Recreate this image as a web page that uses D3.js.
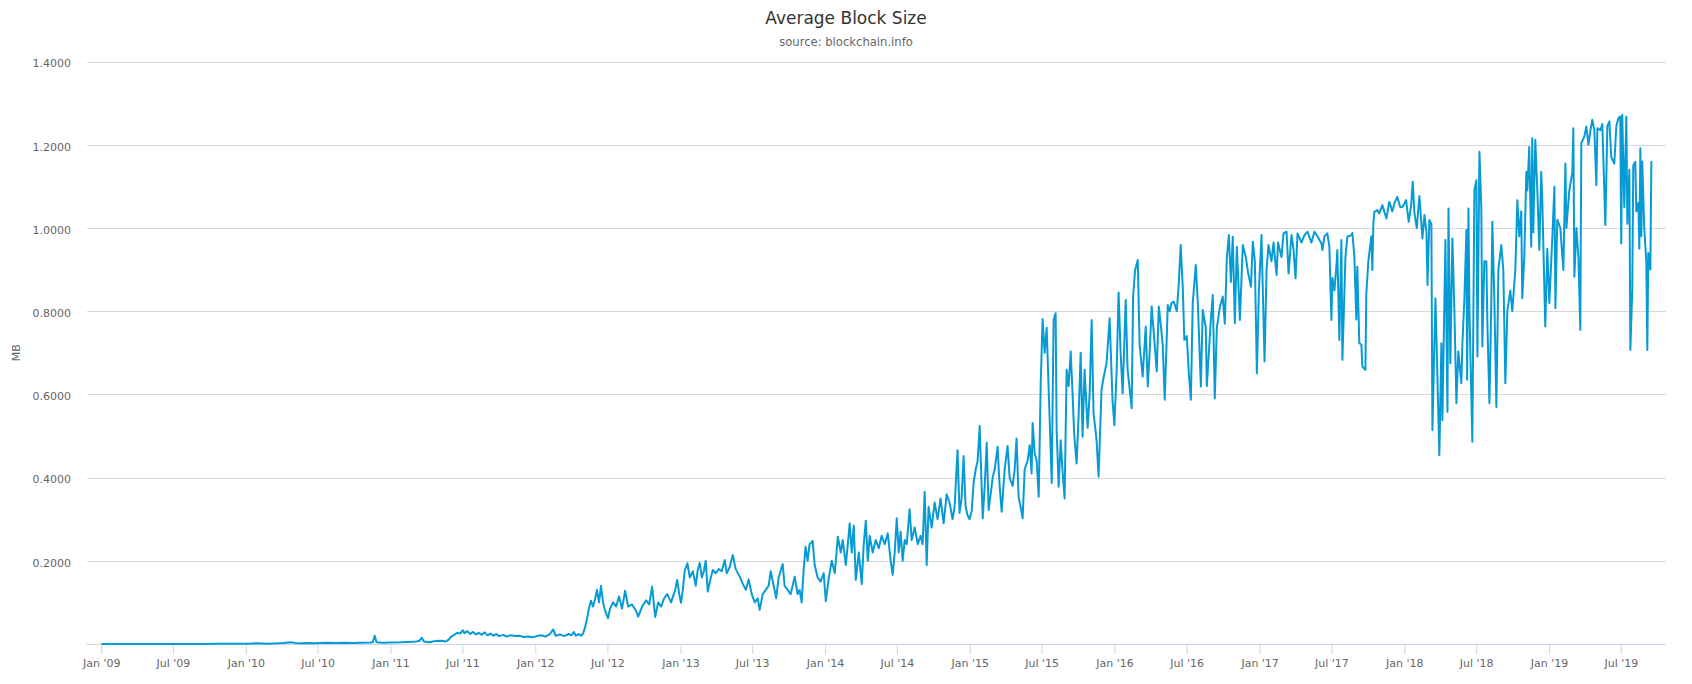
<!DOCTYPE html>
<html>
<head>
<meta charset="utf-8">
<script src="https://cdn.jsdelivr.net/npm/d3@7"></script>
<style>
  html, body { margin: 0; padding: 0; background: #ffffff; }
  svg { display: block; font-family: "DejaVu Sans", Verdana, sans-serif; }
</style>
</head>
<body>
<svg id="chart" width="1692" height="684"></svg>
<script>
// ---------------- DATA ----------------
const chartTitle = "Average Block Size";
const chartSubtitle = "source: blockchain.info";
const yAxisTitle = "MB";
const yTickValues = [0.2, 0.4, 0.6, 0.8, 1.0, 1.2, 1.4];
const xDomainStart = "2008-11-25";
const xDomainEnd = "2019-10-23";

// [decimal year, average block size in MB]
const y2009 = [[2009.008,0.0002],[2009.1,0.0002],[2009.2,0.0003],[2009.3,0.0002],[2009.4,0.0002],[2009.5,0.0003],[2009.6,0.0002],[2009.7,0.0003],[2009.8,0.0006],[2009.9,0.0004],[2009.95,0.0008]];
const y2010 = [[2010.02,0.0006],[2010.08,0.0018],[2010.14,0.0009],[2010.2,0.0015],[2010.26,0.0022],[2010.31,0.004],[2010.36,0.0015],[2010.42,0.0025],[2010.48,0.002],[2010.55,0.0028],[2010.62,0.0022],[2010.68,0.003],[2010.74,0.0025],[2010.8,0.003],[2010.86,0.0035],[2010.877,0.004],[2010.89,0.02],[2010.903,0.004],[2010.95,0.003]];
const y2011 = [[2011.0,0.0035],[2011.06,0.004],[2011.12,0.005],[2011.18,0.006],[2011.2,0.008],[2011.215,0.015],[2011.23,0.006],[2011.27,0.004],[2011.31,0.007],[2011.35,0.008],[2011.38,0.006],[2011.4,0.01],[2011.42,0.018],[2011.44,0.022],[2011.46,0.027],[2011.48,0.025],[2011.5,0.033],[2011.51,0.026],[2011.53,0.031],[2011.55,0.024],[2011.57,0.029],[2011.59,0.023],[2011.61,0.027],[2011.63,0.022],[2011.65,0.028],[2011.67,0.021],[2011.69,0.025],[2011.71,0.02],[2011.73,0.024],[2011.75,0.019],[2011.78,0.022],[2011.8,0.018],[2011.83,0.021],[2011.86,0.019],[2011.89,0.02],[2011.92,0.017],[2011.95,0.018],[2011.98,0.016]];
const y2012 = [[2012.01,0.019],[2012.04,0.021],[2012.07,0.018],[2012.1,0.024],[2012.124,0.035],[2012.14,0.02],[2012.17,0.023],[2012.2,0.019],[2012.23,0.024],[2012.25,0.021],[2012.265,0.029],[2012.28,0.02],[2012.3,0.024],[2012.315,0.02],[2012.329,0.025],[2012.343,0.04],[2012.356,0.06],[2012.37,0.086],[2012.384,0.104],[2012.398,0.09],[2012.412,0.108],[2012.425,0.13],[2012.439,0.1],[2012.453,0.14],[2012.467,0.1],[2012.481,0.08],[2012.501,0.062],[2012.515,0.085],[2012.536,0.1],[2012.557,0.09],[2012.577,0.114],[2012.598,0.085],[2012.619,0.128],[2012.64,0.09],[2012.667,0.095],[2012.694,0.08],[2012.709,0.066],[2012.736,0.09],[2012.764,0.105],[2012.785,0.095],[2012.805,0.138],[2012.826,0.065],[2012.847,0.1],[2012.867,0.09],[2012.888,0.11],[2012.909,0.12],[2012.936,0.1],[2012.964,0.13],[2012.978,0.154],[2012.992,0.12]];
const y2013 = [[2013.004,0.099],[2013.017,0.13],[2013.03,0.176],[2013.048,0.194],[2013.065,0.16],[2013.086,0.175],[2013.106,0.14],[2013.12,0.178],[2013.134,0.195],[2013.148,0.16],[2013.162,0.175],[2013.175,0.2],[2013.189,0.126],[2013.21,0.16],[2013.224,0.178],[2013.244,0.17],[2013.265,0.18],[2013.286,0.175],[2013.306,0.202],[2013.32,0.17],[2013.341,0.185],[2013.362,0.214],[2013.382,0.18],[2013.41,0.162],[2013.431,0.145],[2013.452,0.13],[2013.472,0.155],[2013.493,0.12],[2013.514,0.1],[2013.534,0.11],[2013.548,0.082],[2013.569,0.12],[2013.59,0.13],[2013.61,0.14],[2013.624,0.175],[2013.645,0.14],[2013.662,0.11],[2013.679,0.16],[2013.707,0.192],[2013.72,0.14],[2013.741,0.13],[2013.762,0.12],[2013.79,0.162],[2013.81,0.12],[2013.824,0.13],[2013.838,0.1],[2013.852,0.18],[2013.865,0.234],[2013.879,0.2],[2013.893,0.24],[2013.914,0.248],[2013.928,0.19],[2013.948,0.16],[2013.969,0.15],[2013.99,0.17]];
const y2014 = [[2014.005,0.103],[2014.026,0.16],[2014.046,0.2],[2014.067,0.17],[2014.088,0.258],[2014.108,0.22],[2014.122,0.25],[2014.143,0.19],[2014.157,0.24],[2014.17,0.29],[2014.184,0.22],[2014.198,0.285],[2014.212,0.154],[2014.233,0.22],[2014.253,0.144],[2014.267,0.24],[2014.281,0.296],[2014.295,0.2],[2014.308,0.26],[2014.329,0.22],[2014.35,0.25],[2014.371,0.23],[2014.391,0.26],[2014.412,0.24],[2014.433,0.266],[2014.453,0.2],[2014.467,0.166],[2014.481,0.22],[2014.495,0.302],[2014.509,0.22],[2014.522,0.27],[2014.536,0.2],[2014.55,0.25],[2014.564,0.24],[2014.584,0.324],[2014.598,0.25],[2014.619,0.28],[2014.64,0.24],[2014.66,0.26],[2014.674,0.24],[2014.688,0.366],[2014.702,0.19],[2014.715,0.33],[2014.736,0.28],[2014.757,0.34],[2014.777,0.3],[2014.798,0.35],[2014.819,0.29],[2014.84,0.36],[2014.86,0.34],[2014.881,0.3],[2014.895,0.33],[2014.915,0.466],[2014.929,0.315],[2014.943,0.35],[2014.957,0.452],[2014.971,0.33],[2014.984,0.31],[2014.998,0.3]];
const y2015 = [[2015.013,0.32],[2015.027,0.39],[2015.041,0.42],[2015.054,0.44],[2015.068,0.524],[2015.089,0.302],[2015.103,0.38],[2015.117,0.484],[2015.13,0.322],[2015.144,0.36],[2015.158,0.4],[2015.172,0.42],[2015.192,0.474],[2015.206,0.38],[2015.22,0.318],[2015.241,0.42],[2015.261,0.476],[2015.275,0.4],[2015.296,0.38],[2015.31,0.42],[2015.323,0.494],[2015.337,0.354],[2015.351,0.33],[2015.365,0.302],[2015.379,0.42],[2015.399,0.44],[2015.414,0.478],[2015.427,0.41],[2015.434,0.531],[2015.448,0.46],[2015.462,0.44],[2015.476,0.354],[2015.49,0.627],[2015.503,0.781],[2015.517,0.7],[2015.531,0.76],[2015.552,0.538],[2015.566,0.387],[2015.579,0.779],[2015.593,0.795],[2015.6,0.514],[2015.614,0.378],[2015.628,0.49],[2015.642,0.41],[2015.655,0.35],[2015.669,0.659],[2015.683,0.62],[2015.697,0.703],[2015.711,0.594],[2015.721,0.506],[2015.738,0.434],[2015.752,0.55],[2015.766,0.7],[2015.779,0.498],[2015.793,0.659],[2015.814,0.52],[2015.828,0.6],[2015.842,0.779],[2015.855,0.555],[2015.876,0.49],[2015.89,0.402],[2015.91,0.61],[2015.924,0.64],[2015.945,0.675],[2015.966,0.783],[2015.986,0.587],[2015.999,0.526]];
const y2016 = [[2016.015,0.66],[2016.028,0.845],[2016.042,0.7],[2016.056,0.603],[2016.077,0.827],[2016.09,0.66],[2016.118,0.567],[2016.128,0.835],[2016.142,0.899],[2016.16,0.923],[2016.173,0.719],[2016.194,0.643],[2016.215,0.763],[2016.229,0.619],[2016.242,0.7],[2016.256,0.811],[2016.27,0.75],[2016.291,0.655],[2016.305,0.811],[2016.318,0.77],[2016.332,0.72],[2016.346,0.587],[2016.367,0.815],[2016.38,0.8],[2016.394,0.82],[2016.408,0.823],[2016.429,0.8],[2016.443,0.867],[2016.456,0.959],[2016.47,0.86],[2016.481,0.731],[2016.498,0.74],[2016.512,0.651],[2016.526,0.587],[2016.539,0.819],[2016.56,0.911],[2016.574,0.82],[2016.595,0.619],[2016.608,0.803],[2016.629,0.76],[2016.636,0.62],[2016.65,0.7],[2016.664,0.78],[2016.677,0.839],[2016.691,0.59],[2016.705,0.76],[2016.726,0.81],[2016.746,0.835],[2016.76,0.77],[2016.774,0.927],[2016.788,0.983],[2016.802,0.87],[2016.815,0.979],[2016.829,0.771],[2016.843,0.955],[2016.864,0.779],[2016.884,0.959],[2016.905,0.93],[2016.919,0.895],[2016.94,0.859],[2016.953,0.967],[2016.967,0.92],[2016.981,0.651],[2016.995,0.85]];
const y2017 = [[2017.013,0.983],[2017.02,0.88],[2017.034,0.679],[2017.048,0.9],[2017.061,0.959],[2017.082,0.92],[2017.096,0.965],[2017.117,0.887],[2017.127,0.965],[2017.151,0.93],[2017.165,0.987],[2017.186,0.991],[2017.2,0.891],[2017.22,0.983],[2017.234,0.95],[2017.248,0.879],[2017.262,0.987],[2017.289,0.965],[2017.31,0.983],[2017.331,0.991],[2017.358,0.965],[2017.379,0.991],[2017.4,0.98],[2017.427,0.963],[2017.434,0.947],[2017.448,0.98],[2017.468,0.987],[2017.482,0.955],[2017.496,0.779],[2017.503,0.88],[2017.517,0.85],[2017.531,0.91],[2017.537,0.947],[2017.551,0.731],[2017.565,0.971],[2017.572,0.683],[2017.593,0.93],[2017.606,0.979],[2017.634,0.983],[2017.641,0.988],[2017.655,0.93],[2017.668,0.78],[2017.675,0.907],[2017.689,0.723],[2017.703,0.72],[2017.71,0.667],[2017.731,0.659],[2017.737,0.84],[2017.751,0.919],[2017.772,0.98],[2017.779,0.899],[2017.786,1.011],[2017.793,1.039],[2017.813,1.043],[2017.827,1.035],[2017.848,1.055],[2017.876,1.023],[2017.896,1.063],[2017.917,1.04],[2017.931,1.059],[2017.951,1.075],[2017.972,1.05],[2017.989,1.051]];
const y2018 = [[2018.012,1.067],[2018.03,1.015],[2018.047,1.055],[2018.058,1.111],[2018.07,1.035],[2018.086,1.0],[2018.104,1.077],[2018.125,0.975],[2018.139,1.031],[2018.153,0.99],[2018.16,0.863],[2018.173,1.019],[2018.187,1.01],[2018.194,0.514],[2018.215,0.831],[2018.242,0.454],[2018.256,0.723],[2018.263,0.538],[2018.284,0.971],[2018.298,0.558],[2018.305,1.047],[2018.318,0.675],[2018.332,0.975],[2018.346,0.8],[2018.36,0.579],[2018.373,0.703],[2018.394,0.627],[2018.401,0.72],[2018.415,0.83],[2018.429,0.995],[2018.434,0.635],[2018.443,1.047],[2018.45,0.8],[2018.47,0.486],[2018.484,1.091],[2018.498,1.115],[2018.505,0.691],[2018.519,1.183],[2018.532,1.05],[2018.539,0.715],[2018.553,0.92],[2018.567,0.92],[2018.574,0.77],[2018.588,0.579],[2018.601,0.82],[2018.608,1.015],[2018.622,0.83],[2018.636,0.57],[2018.65,0.9],[2018.67,0.959],[2018.684,0.9],[2018.698,0.627],[2018.712,0.8],[2018.732,0.85],[2018.746,0.8],[2018.767,0.899],[2018.781,1.067],[2018.794,0.98],[2018.808,1.04],[2018.815,0.831],[2018.829,0.93],[2018.843,1.135],[2018.85,1.09],[2018.863,1.195],[2018.877,0.955],[2018.884,1.216],[2018.891,0.99],[2018.905,1.212],[2018.919,1.09],[2018.933,0.947],[2018.946,1.135],[2018.953,1.07],[2018.974,0.763],[2018.988,0.95]];
const y2019 = [[2019.002,0.82],[2019.023,0.98],[2019.037,1.099],[2019.044,0.807],[2019.057,1.02],[2019.078,1.0],[2019.099,0.899],[2019.113,1.155],[2019.12,1.0],[2019.14,1.09],[2019.161,1.135],[2019.168,1.24],[2019.175,0.883],[2019.189,1.0],[2019.203,0.93],[2019.216,0.755],[2019.223,1.204],[2019.244,1.22],[2019.258,1.244],[2019.272,1.2],[2019.286,1.235],[2019.299,1.26],[2019.313,1.235],[2019.327,1.103],[2019.334,1.24],[2019.355,1.235],[2019.368,1.25],[2019.375,1.17],[2019.389,1.007],[2019.403,1.245],[2019.417,1.256],[2019.43,1.17],[2019.451,1.155],[2019.465,1.245],[2019.479,1.264],[2019.492,1.268],[2019.499,0.963],[2019.506,1.272],[2019.52,1.05],[2019.534,1.268],[2019.541,1.01],[2019.555,1.14],[2019.562,0.707],[2019.575,0.851],[2019.582,1.15],[2019.596,1.159],[2019.603,1.04],[2019.617,1.06],[2019.624,0.95],[2019.631,1.192],[2019.638,0.98],[2019.644,1.16],[2019.658,1.0],[2019.672,0.92],[2019.679,0.707],[2019.686,0.94],[2019.7,0.9],[2019.707,1.159]];

// ---------------- CHART ----------------
const W = 1692, H = 684;
const plot = { left: 86.5, right: 1666, top: 61.6, bottom: 644 };

function yearToDate(y) {
  const Y = Math.floor(y);
  const s = Date.UTC(Y, 0, 1), e = Date.UTC(Y + 1, 0, 1);
  return new Date(s + (y - Y) * (e - s));
}

const series = [].concat(y2009, y2010, y2011, y2012, y2013, y2014, y2015, y2016, y2017, y2018, y2019)
  .map(d => ({ date: yearToDate(d[0]), value: d[1] }))
  .sort((a, b) => a.date - b.date);

const svg = d3.select("#chart");

const x = d3.scaleUtc()
  .domain([new Date(xDomainStart + "T00:00:00Z"), new Date(xDomainEnd + "T00:00:00Z")])
  .range([plot.left, plot.right]);
const y = d3.scaleLinear().domain([0, 1.4]).range([plot.bottom, plot.top]);

// Title and subtitle
svg.append("text").attr("x", W / 2).attr("y", 24).attr("text-anchor", "middle")
  .attr("font-size", 17).attr("fill", "#333333").text(chartTitle);
svg.append("text").attr("x", W / 2).attr("y", 46).attr("text-anchor", "middle")
  .attr("font-size", 11.6).attr("fill", "#666666").text(chartSubtitle);

// Grid lines + y labels
const yAxis = d3.axisLeft(y).tickValues(yTickValues).tickSize(-(plot.right - plot.left)).tickPadding(15.5)
  .tickFormat(d3.format(".4f"));
const gy = svg.append("g").attr("transform", `translate(${plot.left},0)`).call(yAxis);
gy.select(".domain").remove();
gy.selectAll(".tick line").attr("stroke", "#d8d8d8").attr("stroke-width", 1).attr("shape-rendering", "crispEdges");
gy.selectAll(".tick text").attr("fill", "#666666").attr("font-size", 11)
  .attr("font-family", "DejaVu Sans, Verdana, sans-serif").attr("dy", "0.48em");

// Y axis title
svg.append("text").attr("transform", `translate(20,${(plot.top + plot.bottom) / 2}) rotate(-90)`)
  .attr("text-anchor", "middle").attr("font-size", 11).attr("fill", "#666666").text(yAxisTitle);

// X axis
const xAxis = d3.axisBottom(x).ticks(d3.utcMonth.every(6)).tickSize(10).tickPadding(5)
  .tickFormat(d3.utcFormat("%b '%y"));
const gx = svg.append("g").attr("transform", `translate(0,${plot.bottom})`).call(xAxis);
gx.select(".domain").attr("stroke", "#ccd6eb").attr("d", `M${plot.left},0.5H${plot.right}`);
gx.selectAll(".tick line").attr("stroke", "#ccd6eb");
gx.selectAll(".tick text").attr("fill", "#666666").attr("font-size", 11)
  .attr("font-family", "DejaVu Sans, Verdana, sans-serif");

// Line
const line = d3.line().x(d => x(d.date)).y(d => y(d.value));
svg.append("path").datum(series)
  .attr("fill", "none").attr("stroke", "#079bd5").attr("stroke-width", 2)
  .attr("stroke-linejoin", "round").attr("stroke-linecap", "round")
  .attr("d", line);
</script>
</body>
</html>
